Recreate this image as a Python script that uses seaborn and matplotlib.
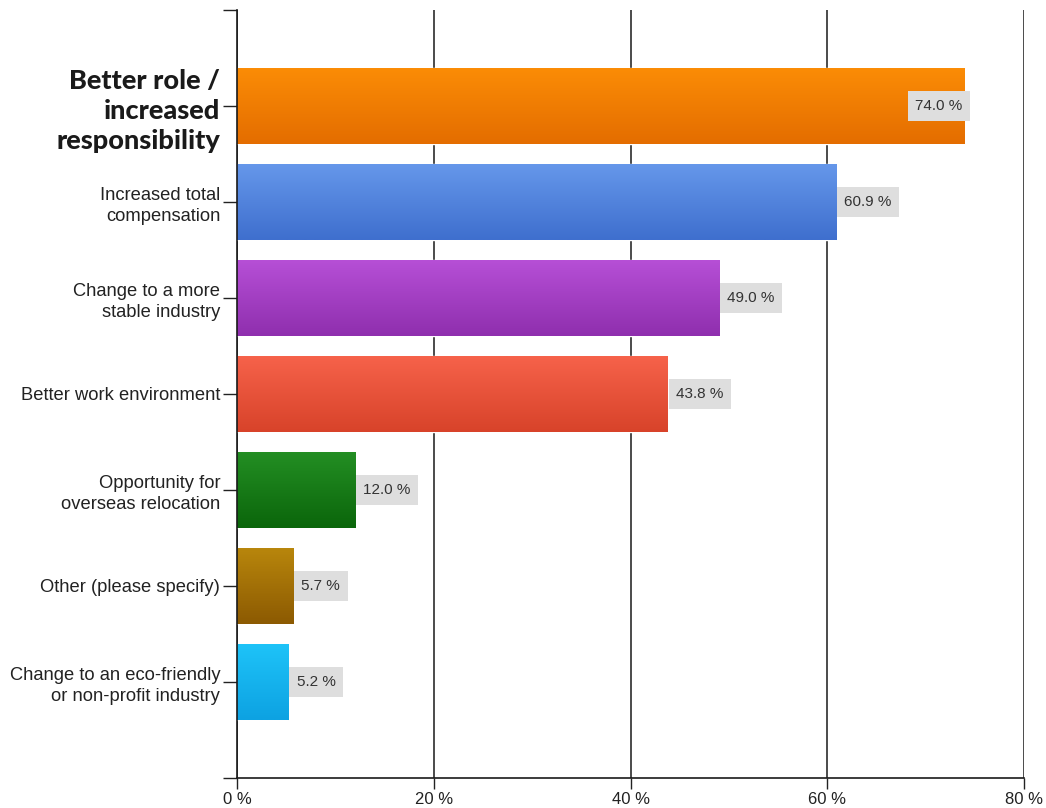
import numpy as np
import pandas as pd
import matplotlib
matplotlib.use("Agg")
import matplotlib.pyplot as plt
import seaborn as sns
from matplotlib.colors import LinearSegmentedColormap

categories = [
    "Better role /\nincreased\nresponsibility",
    "Increased total\ncompensation",
    "Change to a more\nstable industry",
    "Better work environment",
    "Opportunity for\noverseas relocation",
    "Other (please specify)",
    "Change to an eco-friendly\nor non-profit industry",
]
values = [74.0, 60.9, 49.0, 43.8, 12.0, 5.7, 5.2]
value_labels = ["74.0 %", "60.9 %", "49.0 %", "43.8 %", "12.0 %", "5.7 %", "5.2 %"]
tick_values = [0, 20, 40, 60, 80]
tick_labels = ["0 %", "20 %", "40 %", "60 %", "80 %"]

# top / bottom shade of each bar's vertical gradient
top_colors = ["#fb8c06", "#6597ea", "#b64fd6", "#f6624a", "#238e23", "#b8860c", "#1ec3f8"]
bottom_colors = ["#e46d00", "#3f6fce", "#8f2fae", "#d8432a", "#0b660b", "#8c5a02", "#0da2e2"]

sns.set_theme(style="white")
plt.rcParams["font.family"] = ["Liberation Sans", "DejaVu Sans"]

df = pd.DataFrame({"reason": categories, "pct": values})

fig = plt.figure(figsize=(10.46, 8.08), dpi=100)
ax = fig.add_axes([237 / 1046, 30 / 808, (1024 - 237) / 1046, (778 - 10) / 808])

sns.barplot(data=df, x="pct", y="reason", hue="reason", palette=top_colors,
            width=0.79, legend=False, ax=ax, zorder=3, saturation=1)

# vertical gradient fill for every bar
for patch, c_top, c_bot in zip(ax.patches, top_colors, bottom_colors):
    x0, y0 = patch.get_x(), patch.get_y()
    w, h = patch.get_width(), patch.get_height()
    cmap = LinearSegmentedColormap.from_list("g", [c_top, c_bot])
    grad = np.linspace(0, 1, 64).reshape(-1, 1)
    ax.imshow(grad, cmap=cmap, aspect="auto", extent=(x0, x0 + w, y0 + h, y0),
              zorder=3.5, interpolation="bilinear")

ax.set_xlim(0, 80)
ax.set_ylim(7, -1)

# value labels on grey boxes
box = dict(boxstyle="square,pad=0.5", fc="#dedede", ec="none")
for i, (v, lab) in enumerate(zip(values, value_labels)):
    if v > 70:
        ax.text(v - 0.25, i, lab, ha="right", va="center", fontsize=11, color="#333333",
                zorder=5, bbox=box)
    else:
        ax.text(v + 0.85, i, lab, ha="left", va="center", fontsize=11, color="#333333",
                zorder=5, bbox=box)

ax.set_xticks(tick_values)
ax.set_xticklabels(tick_labels, fontsize=12, color="#222222")
ax.set_yticks([-1] + list(range(len(categories))) + [7])
ylabels = [""] + categories + [""]
ax.set_yticklabels(ylabels, fontsize=13.2, color="#222222")
for t in ax.get_yticklabels():
    t.set_linespacing(1.32)
    if t.get_text().startswith("Better role"):
        t.set_fontfamily(["Lato", "DejaVu Sans"])
        t.set_fontweight("black")
        t.set_fontsize(19.5)
        t.set_color("#1a1a1a")
        t.set_linespacing(1.3)

ax.tick_params(axis="y", length=10, width=1, color="#222222", pad=2, left=True)
ax.tick_params(axis="x", length=8, width=1, color="#222222", pad=2, bottom=True)
ax.set_xlabel("")
ax.set_ylabel("")

ax.grid(axis="x", color="#1a1a1a", linewidth=1.1, zorder=0)
ax.grid(axis="y", visible=False)
ax.set_axisbelow(True)
for side in ["top", "right"]:
    ax.spines[side].set_visible(False)
for side in ["left", "bottom"]:
    ax.spines[side].set_color("#1a1a1a")
    ax.spines[side].set_linewidth(1.2)
    ax.spines[side].set_zorder(6)

fig.savefig("out.png", dpi=100, facecolor="white")
